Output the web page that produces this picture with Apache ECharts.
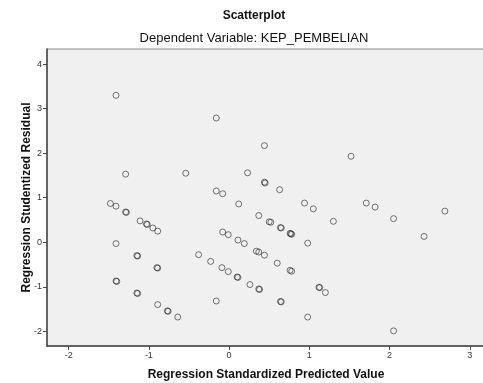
<!DOCTYPE html>
<html>
<head>
<meta charset="utf-8">
<script src="https://cdn.jsdelivr.net/npm/echarts@6/dist/echarts.min.js"></script>
<style>
  html, body { margin: 0; padding: 0; background: #fff; }
  #chart { width: 483px; height: 383px; }
</style>
</head>
<body>
<div id="chart"></div>
<script>
// standardized predicted value (x) and studentized residual (y)
const predicted = [
  -1.41, -0.16, -1.29, -0.54, 0.23, -0.16, -0.08, 0.12, -1.48, -1.41,
  0.44, 1.52, 0.44, 0.45, 0.63, 0.94, 1.05, 1.71, 1.82, 2.69,
  0.37, 0.50, 0.52, 1.30, 2.05, 0.64, 0.65, 0.76, 0.77, 0.78,
  2.43, 0.19, 0.98, 0.34, 0.37, 0.44, 0.60, 0.76, 0.78, 0.26,
  0.37, 0.38, 1.12, 1.13, 1.20, 0.64, 0.65, 0.98, 2.05,
  -1.29, -1.28, -1.11, -1.03, -1.02, -0.95, -0.89, -0.08, -0.01, 0.11,
  -1.41, -1.15, -1.14, -0.90, -0.89, -0.38, -0.23, -0.09, -0.01, 0.10, 0.11,
  -1.41, -1.40, -1.15, -1.14, -0.89, -0.77, -0.76, -0.64, -0.16
];
const residual = [
  3.30, 2.79, 1.53, 1.55, 1.56, 1.15, 1.09, 0.86, 0.87, 0.81,
  2.17, 1.93, 1.35, 1.33, 1.18, 0.88, 0.75, 0.88, 0.79, 0.70,
  0.60, 0.46, 0.45, 0.47, 0.53, 0.33, 0.32, 0.20, 0.19, 0.18,
  0.13, -0.03, -0.02, -0.20, -0.22, -0.29, -0.47, -0.63, -0.65, -0.95,
  -1.05, -1.06, -1.01, -1.02, -1.13, -1.33, -1.34, -1.68, -1.99,
  0.68, 0.67, 0.48, 0.41, 0.40, 0.32, 0.25, 0.23, 0.17, 0.05,
  -0.03, -0.30, -0.31, -0.57, -0.58, -0.28, -0.43, -0.57, -0.66, -0.78, -0.79,
  -0.87, -0.88, -1.14, -1.15, -1.40, -1.54, -1.55, -1.68, -1.32
];
const xTicks = [-2, -1, 0, 1, 2, 3];
const yTicks = [-2, -1, 0, 1, 2, 3, 4];

const points = predicted.map((x, i) => [x, residual[i]]);

const font = "Arial, 'Liberation Sans', sans-serif";
const chart = echarts.init(document.getElementById("chart"));

chart.setOption({
  animation: false,
  textStyle: { fontFamily: font },
  title: [
    {
      text: "Scatterplot",
      left: 249,
      top: 5,
      textAlign: "center",
      textStyle: { fontSize: 12, fontWeight: "bold", color: "#111", fontFamily: font },
    },
    {
      text: "Dependent Variable: KEP_PEMBELIAN",
      left: 249,
      top: 27,
      textAlign: "center",
      textStyle: { fontSize: 13, fontWeight: "normal", color: "#111", fontFamily: font },
    },
  ],
  grid: {
    left: 47,
    right: -2,
    top: 49,
    bottom: 37,
    outerBoundsMode: "none",
    show: true,
    backgroundColor: "#f0f0f0",
    borderColor: "#888",
    borderWidth: 1,
  },
  xAxis: {
    type: "value",
    min: -2.27,
    max: 3.19,
    name: "Regression Standardized Predicted Value",
    nameLocation: "middle",
    nameGap: 23,
    nameMoveOverlap: false,
    nameTextStyle: { fontSize: 12, fontWeight: "bold", color: "#111", fontFamily: font },
    axisLine: { show: true, onZero: false, lineStyle: { color: "#444", width: 1.5 } },
    axisTick: { show: true, customValues: xTicks, length: 4, lineStyle: { color: "#444" } },
    axisLabel: { customValues: xTicks, fontSize: 9, color: "#333", margin: 5 },
    splitLine: { show: false },
  },
  yAxis: {
    type: "value",
    min: -2.33,
    max: 4.34,
    name: "Regression Studentized Residual",
    nameLocation: "middle",
    nameGap: 14,
    nameMoveOverlap: false,
    nameTextStyle: { fontSize: 12, fontWeight: "bold", color: "#111", fontFamily: font },
    axisLine: { show: true, onZero: false, lineStyle: { color: "#444", width: 1.5 } },
    axisTick: { show: true, customValues: yTicks, length: 4, lineStyle: { color: "#444" } },
    axisLabel: { customValues: yTicks, fontSize: 9, color: "#333", margin: 5 },
    splitLine: { show: false },
  },
  series: [
    {
      type: "scatter",
      data: points,
      symbol: "circle",
      symbolSize: 6,
      itemStyle: {
        color: "rgba(0,0,0,0)",
        borderColor: "rgba(30,30,30,0.75)",
        borderWidth: 1,
      },
    },
  ],
});
</script>
</body>
</html>
